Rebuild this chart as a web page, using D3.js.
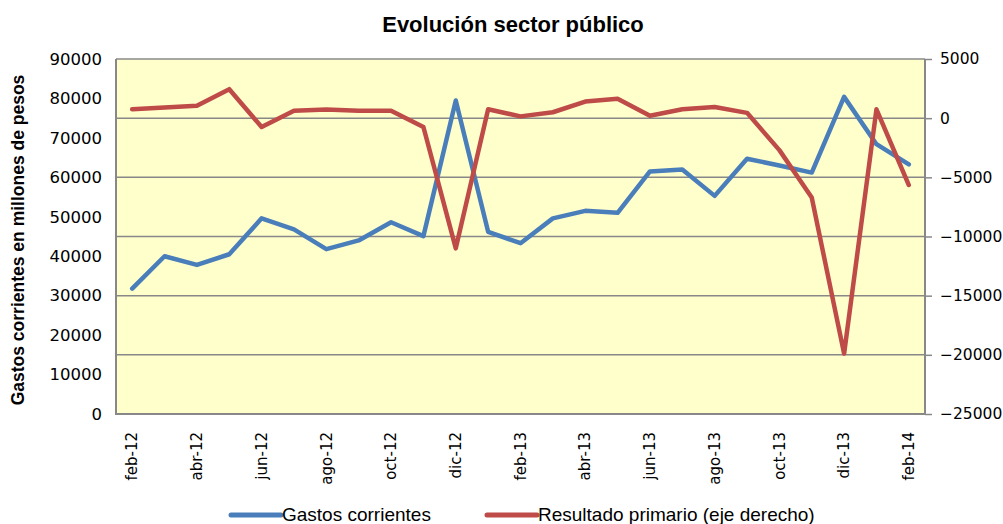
<!DOCTYPE html>
<html>
<head>
<meta charset="utf-8">
<script src="https://cdn.jsdelivr.net/npm/d3@7"></script>
<style>
  html, body { margin: 0; padding: 0; background: #fff; }
  svg { display: block; }
</style>
</head>
<body>
<svg id="chart" width="1003" height="524"></svg>
<script>
// meses (eje x)
const months = ['feb-12', 'mar-12', 'abr-12', 'may-12', 'jun-12', 'jul-12', 'ago-12', 'sep-12', 'oct-12', 'nov-12', 'dic-12',
  'ene-13', 'feb-13', 'mar-13', 'abr-13', 'may-13', 'jun-13', 'jul-13', 'ago-13', 'sep-13', 'oct-13', 'nov-13', 'dic-13',
  'ene-14', 'feb-14']
// gastos corrientes, eje izquierdo
const gastos = [31800, 40000, 37800, 40500, 49600, 46800, 41800, 44000, 48600, 45100, 79500,
  46200, 43300, 49600, 51500, 51000, 61500, 62000, 55300, 64700, 63000, 61200, 80400,
  68400, 63300]
// resultado primario, eje derecho
const resultado = [750, 900, 1050, 2450, -750, 630, 740, 630, 630, -750, -11000,
  750, 150, 500, 1400, 1650, 200, 750, 950, 450, -2700, -6700, -19900,
  750, -5650]
const leftTicks = [0, 10000, 20000, 30000, 40000, 50000, 60000, 70000, 80000, 90000]
const rightTicks = [-25000, -20000, -15000, -10000, -5000, 0, 5000]
const xTicks = months.filter((m, i) => i % 2 === 0)

const cfg = {
  left: 116, right: 925, top: 59, bottom: 414,
  blue: '#4A7EBB', red: '#BE4B48', grid: '#888888'
}

const svg = d3.select('#chart')

const x = d3.scaleBand().domain(months).range([cfg.left, cfg.right])
const yL = d3.scaleLinear().domain([0, 90000]).range([cfg.bottom, cfg.top])
const yR = d3.scaleLinear().domain([-25000, 5000]).range([cfg.bottom, cfg.top])
const cx = d => x(d) + x.bandwidth() / 2
const fmt = d3.format('d')

// fondo del area de trazado
svg.append('rect')
  .attr('x', cfg.left).attr('y', cfg.top)
  .attr('width', cfg.right - cfg.left).attr('height', cfg.bottom - cfg.top)
  .attr('fill', '#FFFFCC')

// lineas de division (eje derecho)
svg.append('g').selectAll('line').data(rightTicks).join('line')
  .attr('x1', cfg.left).attr('x2', cfg.right)
  .attr('y1', d => yR(d)).attr('y2', d => yR(d))
  .attr('stroke', cfg.grid).attr('stroke-width', 1.5)

// eje izquierdo
const axL = svg.append('g')
  .attr('transform', `translate(${cfg.left},0)`)
  .call(d3.axisLeft(yL).tickValues(leftTicks).tickFormat(fmt).tickSize(0).tickPadding(14))
axL.select('.domain').remove()
axL.selectAll('text')
  .attr('font-family', 'DejaVu Sans').attr('font-size', 16.5).attr('fill', '#000')

// eje derecho
const axR = svg.append('g')
  .attr('transform', `translate(${cfg.right},0)`)
  .call(d3.axisRight(yR).tickValues(rightTicks).tickFormat(fmt).tickSize(7).tickPadding(8))
axR.select('.domain').remove()
axR.selectAll('.tick line').attr('stroke', cfg.grid).attr('stroke-width', 1.5)
axR.selectAll('text')
  .attr('font-family', 'DejaVu Sans').attr('font-size', 15.5).attr('fill', '#000')

// eje x
const axX = svg.append('g')
  .attr('transform', `translate(0,${cfg.bottom})`)
  .call(d3.axisBottom(x).tickValues(xTicks).tickSize(0))
axX.select('.domain').remove()
axX.selectAll('text')
  .attr('transform', 'rotate(-90)')
  .attr('x', -18).attr('y', 0).attr('dy', '0.35em')
  .attr('text-anchor', 'end')
  .attr('font-family', 'DejaVu Sans').attr('font-size', 15).attr('fill', '#000')

// bordes del area
svg.append('path')
  .attr('d', `M${cfg.left},${cfg.top}V${cfg.bottom}H${cfg.right}V${cfg.top}`)
  .attr('fill', 'none').attr('stroke', cfg.grid).attr('stroke-width', 2)

// series
const lineL = d3.line().x((d, i) => cx(months[i])).y(d => yL(d))
const lineR = d3.line().x((d, i) => cx(months[i])).y(d => yR(d))

svg.append('path').datum(gastos)
  .attr('d', lineL)
  .attr('fill', 'none').attr('stroke', cfg.blue).attr('stroke-width', 4.5)
  .attr('stroke-linejoin', 'round').attr('stroke-linecap', 'round')

svg.append('path').datum(resultado)
  .attr('d', lineR)
  .attr('fill', 'none').attr('stroke', cfg.red).attr('stroke-width', 4.5)
  .attr('stroke-linejoin', 'round').attr('stroke-linecap', 'round')

// titulo
svg.append('text')
  .attr('x', 513).attr('y', 32)
  .attr('text-anchor', 'middle')
  .attr('font-family', 'Liberation Sans').attr('font-weight', 'bold').attr('font-size', 22)
  .text('Evolución sector público')

// titulo eje vertical
svg.append('text')
  .attr('transform', 'translate(24,240) rotate(-90)')
  .attr('text-anchor', 'middle')
  .attr('font-family', 'Liberation Sans').attr('font-weight', 'bold').attr('font-size', 17.5)
  .text('Gastos corrientes en millones de pesos')

// leyenda
const legend = [
  { name: 'Gastos corrientes', color: cfg.blue, x: 231 },
  { name: 'Resultado primario (eje derecho)', color: cfg.red, x: 487 }
]
const lg = svg.append('g').selectAll('g').data(legend).join('g')
  .attr('transform', d => `translate(${d.x},515)`)
lg.append('line')
  .attr('x1', 0).attr('x2', 50)
  .attr('stroke', d => d.color).attr('stroke-width', 5).attr('stroke-linecap', 'round')
lg.append('text')
  .attr('x', 51).attr('y', 6)
  .attr('font-family', 'Liberation Sans').attr('font-size', 19)
  .text(d => d.name)
</script>
</body>
</html>
